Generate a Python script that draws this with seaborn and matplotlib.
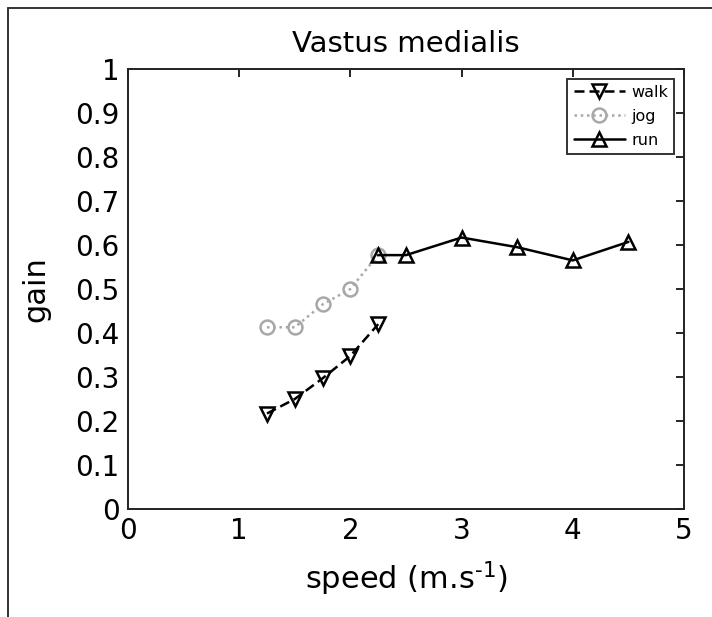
import matplotlib
matplotlib.use("Agg")
import matplotlib.pyplot as plt
import seaborn as sns
import pandas as pd
from matplotlib.lines import Line2D

walk_speed = [1.25, 1.5, 1.75, 2.0, 2.25]
walk_gain = [0.217, 0.25, 0.297, 0.348, 0.42]
jog_speed = [1.25, 1.5, 1.75, 2.0, 2.25]
jog_gain = [0.413, 0.413, 0.465, 0.50, 0.578]
run_speed = [2.25, 2.5, 3.0, 3.5, 4.0, 4.5]
run_gain = [0.577, 0.577, 0.617, 0.595, 0.565, 0.607]

x_ticks = [0, 1, 2, 3, 4, 5]
y_ticks = [0, 0.1, 0.2, 0.3, 0.4, 0.5, 0.6, 0.7, 0.8, 0.9, 1]
y_tick_labels = ["0", "0.1", "0.2", "0.3", "0.4", "0.5", "0.6", "0.7", "0.8", "0.9", "1"]

sns.set_style("white")
plt.rcParams["font.family"] = ["DejaVu Sans"]
plt.rcParams["text.color"] = "black"
plt.rcParams["axes.labelcolor"] = "black"

fig = plt.figure(figsize=(7.12, 6.17), dpi=100)
ax = fig.add_axes([128 / 712, 1 - 509 / 617, (684 - 128) / 712, (509 - 69) / 617])

walk = pd.DataFrame({"speed": walk_speed, "gain": walk_gain})
jog = pd.DataFrame({"speed": jog_speed, "gain": jog_gain})
run = pd.DataFrame({"speed": run_speed, "gain": run_gain})

sns.lineplot(data=walk, x="speed", y="gain", ax=ax, color="black", linestyle=(0, (4, 2)),
             linewidth=1.8, marker="v", markersize=10, markerfacecolor="none",
             markeredgecolor="black", markeredgewidth=1.8, label="walk")
sns.lineplot(data=jog, x="speed", y="gain", ax=ax, color="#a8a8a8", linestyle=(0, (1, 1.5)),
             linewidth=1.8, marker="o", markersize=10, markerfacecolor="none",
             markeredgecolor="#a8a8a8", markeredgewidth=1.8, label="jog")
sns.lineplot(data=run, x="speed", y="gain", ax=ax, color="black", linestyle="-",
             linewidth=1.8, marker="^", markersize=10, markerfacecolor="none",
             markeredgecolor="black", markeredgewidth=1.8, label="run")

ax.set_xlim(0, 5)
ax.set_ylim(0, 1)
ax.set_xticks(x_ticks)
ax.set_xticklabels([str(t) for t in x_ticks])
ax.set_yticks(y_ticks)
ax.set_yticklabels(y_tick_labels)
ax.tick_params(direction="in", length=6, width=1.2, top=True, right=True,
               labelsize=20, colors="black", pad=6)
for s in ax.spines.values():
    s.set_visible(True)
    s.set_color("#222222")
    s.set_linewidth(1.4)

ax.set_title("Vastus medialis", fontsize=21, pad=12, color="black")
ax.set_xlabel("speed (m.s$^{\\text{-1}}$)", fontsize=22, labelpad=10)
ax.set_ylabel("gain", fontsize=22, labelpad=18)

leg = ax.legend(loc="upper right", fontsize=11.5, frameon=True, fancybox=False,
                handlelength=3.2, handletextpad=0.4, borderpad=0.4, labelspacing=0.55,
                borderaxespad=0.6)
leg.get_frame().set_edgecolor("black")
leg.get_frame().set_linewidth(1.4)

fig.add_artist(Line2D([8 / 712, 8 / 712], [0, 1 - 8 / 617], transform=fig.transFigure,
                      color="#333333", linewidth=1.4))
fig.add_artist(Line2D([8 / 712, 1], [1 - 8 / 617, 1 - 8 / 617], transform=fig.transFigure,
                      color="#333333", linewidth=1.4))

fig.savefig("out.png", dpi=100, facecolor="white")
